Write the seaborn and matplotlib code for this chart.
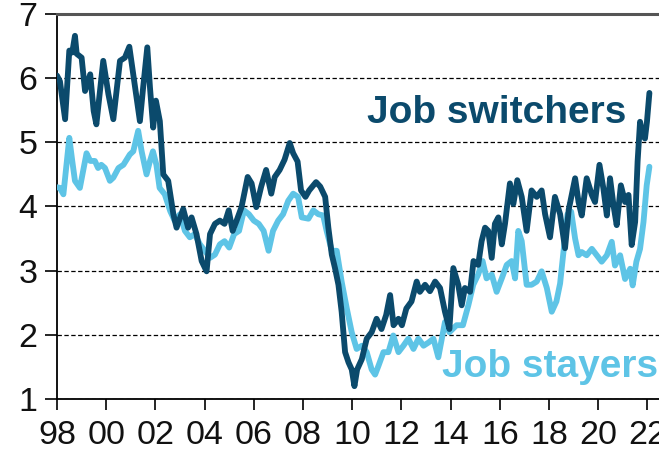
import numpy as np
import pandas as pd
import seaborn as sns
import matplotlib
matplotlib.use("Agg")
import matplotlib.pyplot as plt
from matplotlib import font_manager

# ---- data ----
switchers_year = [1998.00, 1998.12, 1998.33, 1998.50, 1998.62, 1998.73, 1998.80, 1999.00, 1999.14, 1999.35,
                  1999.49, 1999.60, 1999.88, 2000.09, 2000.29, 2000.56, 2000.76, 2000.94, 2001.10, 2001.37,
                  2001.50, 2001.67, 2001.78, 2001.91, 2002.02, 2002.18, 2002.32, 2002.52, 2002.73, 2002.86,
                  2003.13, 2003.33, 2003.47, 2003.67, 2003.88, 2004.08, 2004.22, 2004.42, 2004.62, 2004.81,
                  2004.98, 2005.14, 2005.30, 2005.50, 2005.75, 2005.91, 2006.10, 2006.30, 2006.50, 2006.71,
                  2006.85, 2007.05, 2007.25, 2007.46, 2007.60, 2007.78, 2007.92, 2008.10, 2008.25, 2008.53,
                  2008.70, 2008.90, 2009.03, 2009.17, 2009.30, 2009.44, 2009.57, 2009.71, 2009.85, 2009.98,
                  2010.09, 2010.20, 2010.39, 2010.59, 2010.79, 2010.99, 2011.19, 2011.38, 2011.54, 2011.68,
                  2011.88, 2012.02, 2012.20, 2012.41, 2012.62, 2012.75, 2012.96, 2013.16, 2013.37, 2013.57,
                  2013.77, 2013.95, 2014.11, 2014.31, 2014.45, 2014.58, 2014.79, 2014.93, 2015.12, 2015.26,
                  2015.40, 2015.53, 2015.67, 2015.80, 2015.94, 2016.08, 2016.21, 2016.41, 2016.55, 2016.71,
                  2016.89, 2017.09, 2017.29, 2017.50, 2017.70, 2017.84, 2018.04, 2018.24, 2018.45, 2018.65,
                  2018.80, 2019.06, 2019.20, 2019.33, 2019.53, 2019.74, 2019.87, 2020.05, 2020.21, 2020.35,
                  2020.48, 2020.62, 2020.75, 2020.92, 2021.09, 2021.23, 2021.36, 2021.50, 2021.60, 2021.70,
                  2021.80, 2021.90, 2021.98, 2022.08]
switchers_val = [6.04, 5.95, 5.36, 6.43, 6.40, 6.66, 6.38, 6.32, 5.80, 6.06,
                 5.49, 5.28, 6.27, 5.75, 5.36, 6.27, 6.32, 6.49, 6.06, 5.33,
                 5.85, 6.48, 5.85, 5.23, 5.65, 5.33, 4.50, 4.40, 3.88, 3.67,
                 3.96, 3.67, 3.83, 3.57, 3.15, 2.99, 3.57, 3.73, 3.78, 3.73,
                 3.94, 3.62, 3.78, 3.99, 4.46, 4.36, 3.99, 4.31, 4.57, 4.20,
                 4.46, 4.57, 4.73, 4.99, 4.83, 4.70, 4.25, 4.15, 4.25, 4.38,
                 4.31, 4.15, 3.67, 3.25, 3.04, 2.78, 2.36, 1.73, 1.57, 1.46,
                 1.20, 1.46, 1.62, 1.94, 2.04, 2.25, 2.09, 2.31, 2.62, 2.15,
                 2.25, 2.15, 2.41, 2.52, 2.83, 2.67, 2.78, 2.68, 2.83, 2.73,
                 2.36, 2.09, 3.04, 2.78, 2.46, 2.73, 2.67, 3.15, 3.09, 3.46,
                 3.67, 3.62, 3.20, 3.73, 3.83, 3.41, 3.73, 4.36, 4.04, 4.41,
                 4.15, 3.62, 4.25, 4.15, 4.25, 3.88, 3.52, 4.15, 3.88, 3.35,
                 3.95, 4.44, 4.07, 3.86, 4.44, 4.18, 4.07, 4.65, 4.28, 3.86,
                 4.44, 4.02, 3.71, 4.33, 4.07, 4.18, 3.40, 3.76, 4.70, 5.32,
                 5.11, 5.06, 5.32, 5.77]

stayers_year = [1998.00, 1998.12, 1998.26, 1998.40, 1998.50, 1998.62, 1998.73, 1998.93, 1999.20, 1999.35,
                1999.54, 1999.67, 1999.80, 1999.95, 2000.15, 2000.29, 2000.50, 2000.70, 2000.96, 2001.10,
                2001.30, 2001.44, 2001.64, 2001.78, 2001.90, 2002.04, 2002.17, 2002.38, 2002.60, 2002.78,
                2003.00, 2003.20, 2003.40, 2003.60, 2003.81, 2004.01, 2004.22, 2004.42, 2004.62, 2004.81,
                2005.00, 2005.20, 2005.40, 2005.60, 2005.80, 2006.00, 2006.20, 2006.40, 2006.60, 2006.78,
                2006.99, 2007.19, 2007.40, 2007.60, 2007.80, 2007.95, 2008.22, 2008.42, 2008.62, 2008.82,
                2008.96, 2009.17, 2009.37, 2009.57, 2009.78, 2009.98, 2010.18, 2010.39, 2010.59, 2010.79,
                2010.93, 2011.07, 2011.27, 2011.47, 2011.67, 2011.88, 2012.08, 2012.28, 2012.49, 2012.69,
                2012.90, 2013.10, 2013.30, 2013.50, 2013.77, 2013.95, 2014.24, 2014.50, 2014.72, 2014.92,
                2015.12, 2015.30, 2015.46, 2015.67, 2015.87, 2016.08, 2016.28, 2016.48, 2016.62, 2016.75,
                2016.89, 2017.09, 2017.29, 2017.50, 2017.70, 2017.91, 2018.11, 2018.30, 2018.45, 2018.59,
                2018.75, 2018.90, 2019.06, 2019.20, 2019.33, 2019.53, 2019.74, 2019.94, 2020.14, 2020.35,
                2020.55, 2020.68, 2020.89, 2021.09, 2021.30, 2021.40, 2021.55, 2021.70, 2021.84, 2021.97,
                2022.08]
stayers_val = [4.30, 4.29, 4.19, 4.70, 5.07, 4.71, 4.40, 4.29, 4.83, 4.71,
               4.71, 4.60, 4.65, 4.60, 4.40, 4.45, 4.60, 4.65, 4.81, 4.86,
               5.18, 4.86, 4.50, 4.71, 4.86, 4.65, 4.29, 4.19, 3.93, 3.78,
               3.88, 3.62, 3.52, 3.57, 3.41, 3.31, 3.20, 3.25, 3.41, 3.46,
               3.36, 3.57, 3.62, 3.94, 3.88, 3.78, 3.73, 3.62, 3.31, 3.62,
               3.78, 3.88, 4.09, 4.20, 4.15, 3.83, 3.81, 3.94, 3.88, 3.86,
               3.62, 3.31, 3.31, 2.83, 2.41, 2.04, 1.78, 1.83, 1.73, 1.46,
               1.38, 1.52, 1.73, 1.73, 1.99, 1.73, 1.83, 1.94, 1.78, 1.94,
               1.83, 1.88, 1.94, 1.65, 2.20, 2.04, 2.15, 2.15, 2.46, 2.78,
               2.94, 3.15, 2.88, 2.94, 2.67, 2.88, 3.09, 3.15, 2.88, 3.62,
               3.46, 2.78, 2.78, 2.83, 2.99, 2.73, 2.36, 2.52, 2.80, 3.30,
               3.88, 3.92, 3.50, 3.24, 3.29, 3.24, 3.34, 3.24, 3.14, 3.24,
               3.45, 3.08, 3.24, 2.87, 3.03, 2.77, 3.14, 3.34, 3.76, 4.33,
               4.62]

tick_years = [1998, 2000, 2002, 2004, 2006, 2008, 2010, 2012, 2014, 2016, 2018, 2020, 2022]
tick_labels = ["98", "00", "02", "04", "06", "08", "10", "12", "14", "16", "18", "20", "22"]
y_ticks = [1, 2, 3, 4, 5, 6, 7]
series_names = ["Job switchers", "Job stayers"]

DARK = "#0b4a6c"
LIGHT = "#5ec4e6"

sns.set_style("white")
plt.rcParams["font.family"] = ["Liberation Sans", "DejaVu Sans"]

df = pd.concat([
    pd.DataFrame({"year": switchers_year, "value": switchers_val, "series": series_names[0]}),
    pd.DataFrame({"year": stayers_year, "value": stayers_val, "series": series_names[1]}),
])

fig = plt.figure(figsize=(6.59, 4.53), dpi=100)
ax = fig.add_axes([57 / 659, 1 - 399 / 453, 1 - 57 / 659, (399 - 14) / 453])

sns.lineplot(data=df, x="year", y="value", hue="series", palette=[DARK, LIGHT],
             hue_order=series_names, estimator=None, sort=False,
             linewidth=4.2, legend=False, ax=ax)
lines = ax.get_lines()
if len(lines) == 2:
    lines[0].set_zorder(4)
    lines[1].set_zorder(3)

ax.set_xlim(1998, 2022.47)
ax.set_ylim(1, 7)
ax.set_xticks(tick_years)
ax.set_xticklabels(tick_labels)
ax.set_yticks(y_ticks)
ax.set_xlabel("")
ax.set_ylabel("")

for lbl in ax.get_xticklabels() + ax.get_yticklabels():
    lbl.set_fontsize(24.5)
    lbl.set_color("#111111")

ax.tick_params(axis="x", direction="out", length=8, width=1.2, color="black", pad=7, bottom=True)
ax.tick_params(axis="y", direction="out", length=9, width=1.2, color="black", pad=5, left=True)

ax.grid(axis="y", color="black", linestyle=(0, (3.5, 2.0)), linewidth=0.9, zorder=1)
ax.grid(axis="x", visible=False)
ax.set_axisbelow(True)

for s in ["left", "bottom"]:
    ax.spines[s].set_visible(True)
    ax.spines[s].set_color("black")
    ax.spines[s].set_linewidth(1.3)
ax.spines["right"].set_visible(False)
ax.spines["top"].set_visible(True)
ax.spines["top"].set_color("#555555")
ax.spines["top"].set_linewidth(2.2)

ax.text(2010.60, 5.45, series_names[0], color=DARK, fontsize=28, fontweight="bold",
        ha="left", va="center", zorder=6)
ax.text(2013.65, 1.50, series_names[1], color=LIGHT, fontsize=28, fontweight="bold",
        ha="left", va="center", zorder=6)

fig.savefig("out.png", dpi=100)
